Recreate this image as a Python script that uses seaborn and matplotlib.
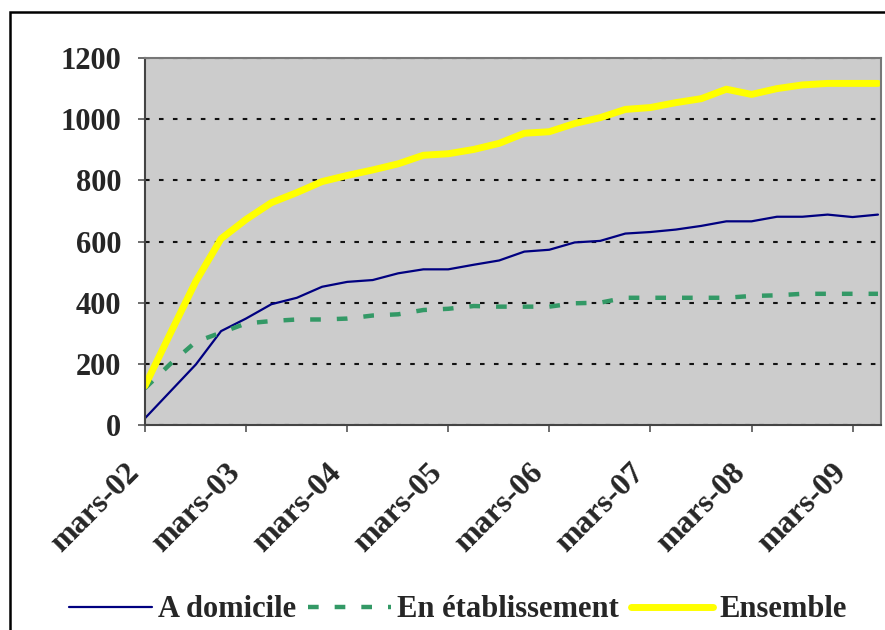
import pandas as pd
import matplotlib
matplotlib.use("Agg")
import matplotlib.pyplot as plt
from matplotlib.patches import Rectangle
import seaborn as sns

# Quarterly data, mars-02 .. juin-09
dates = pd.date_range("2002-03-01", periods=30, freq="3MS")
domicile = [22, 110, 198, 307, 348, 395, 416, 452, 468, 474, 496, 509, 509, 524, 538,
            567, 573, 597, 602, 626, 631, 639, 651, 666, 666, 681, 681, 688, 680, 688]
etablissement = [120, 200, 272, 302, 332, 340, 345, 345, 348, 358, 362, 376, 380, 389, 387,
                 387, 387, 398, 400, 416, 416, 416, 416, 416, 422, 424, 429, 429, 429, 429]
ensemble = [128, 300, 470, 609, 672, 727, 760, 796, 816, 834, 854, 882, 887, 901, 921,
            954, 959, 986, 1005, 1032, 1038, 1054, 1067, 1098, 1081, 1100, 1112, 1117, 1117, 1117]
tick_dates = pd.date_range("2002-03-01", periods=8, freq="12MS")
tick_labels = ["mars-02", "mars-03", "mars-04", "mars-05",
               "mars-06", "mars-07", "mars-08", "mars-09"]
y_ticks = [0, 200, 400, 600, 800, 1000, 1200]

df = pd.DataFrame({"date": dates, "A domicile": domicile,
                   "En établissement": etablissement, "Ensemble": ensemble})

sns.set_style("white")
plt.rcParams["font.family"] = ["Liberation Serif", "DejaVu Serif"]

fig = plt.figure(figsize=(8.85, 6.3), dpi=100)
ax = fig.add_axes([0.1638, 0.3254, 0.8317, 0.5825])
ax.set_facecolor("#cccccc")

sns.lineplot(data=df, x="date", y="A domicile", ax=ax, color="#000080", lw=1.6,
             label="A domicile")
sns.lineplot(data=df, x="date", y="En établissement", ax=ax, color="#339966", lw=3.2,
             label="En établissement", dashes=False)
ax.lines[-1].set_dashes((2.4, 3.6))
sns.lineplot(data=df, x="date", y="Ensemble", ax=ax, color="#ffff00", lw=5,
             label="Ensemble")

ax.set_ylim(0, 1200)
ax.set_xlim(pd.Timestamp("2002-03-01"), pd.Timestamp("2009-06-12"))
ax.set_yticks(y_ticks)
ax.set_yticklabels([str(v) for v in y_ticks], fontsize=22, fontweight="bold")
ax.set_xticks(tick_dates)
ax.set_xticklabels(tick_labels, fontsize=23, fontweight="bold",
                   rotation=45, ha="right", va="top")
ax.set_xlabel("")
ax.set_ylabel("")

ax.yaxis.grid(True, color="#111111", lw=1.5, linestyle=(0, (2.2, 4.5)))
ax.xaxis.grid(False)
ax.tick_params(axis="both", direction="out", length=5, width=1.2, color="#555555",
               bottom=True, left=True)
ax.tick_params(axis="y", pad=12)
ax.tick_params(axis="x", pad=19)
for s in ax.spines.values():
    s.set_color("#777777")
    s.set_linewidth(1.5)
ax.spines["left"].set_color("#444444")
ax.spines["bottom"].set_color("#444444")

handles, labels = ax.get_legend_handles_labels()
ax.get_legend().remove()
fig.legend(handles, labels, loc="center", bbox_to_anchor=(0.5175, 0.032), ncol=3,
           frameon=False, prop={"size": 22, "weight": "bold"},
           handlelength=2.7, handletextpad=0.2, columnspacing=0.4)

# outer chart frame (cut off at right and bottom)
fig.patches.append(Rectangle((10 / 885, -0.1), 1.2, 1 - 12 / 630 + 0.1,
                             transform=fig.transFigure, fill=False,
                             edgecolor="black", lw=1.8))

fig.savefig("out.png", dpi=100)
